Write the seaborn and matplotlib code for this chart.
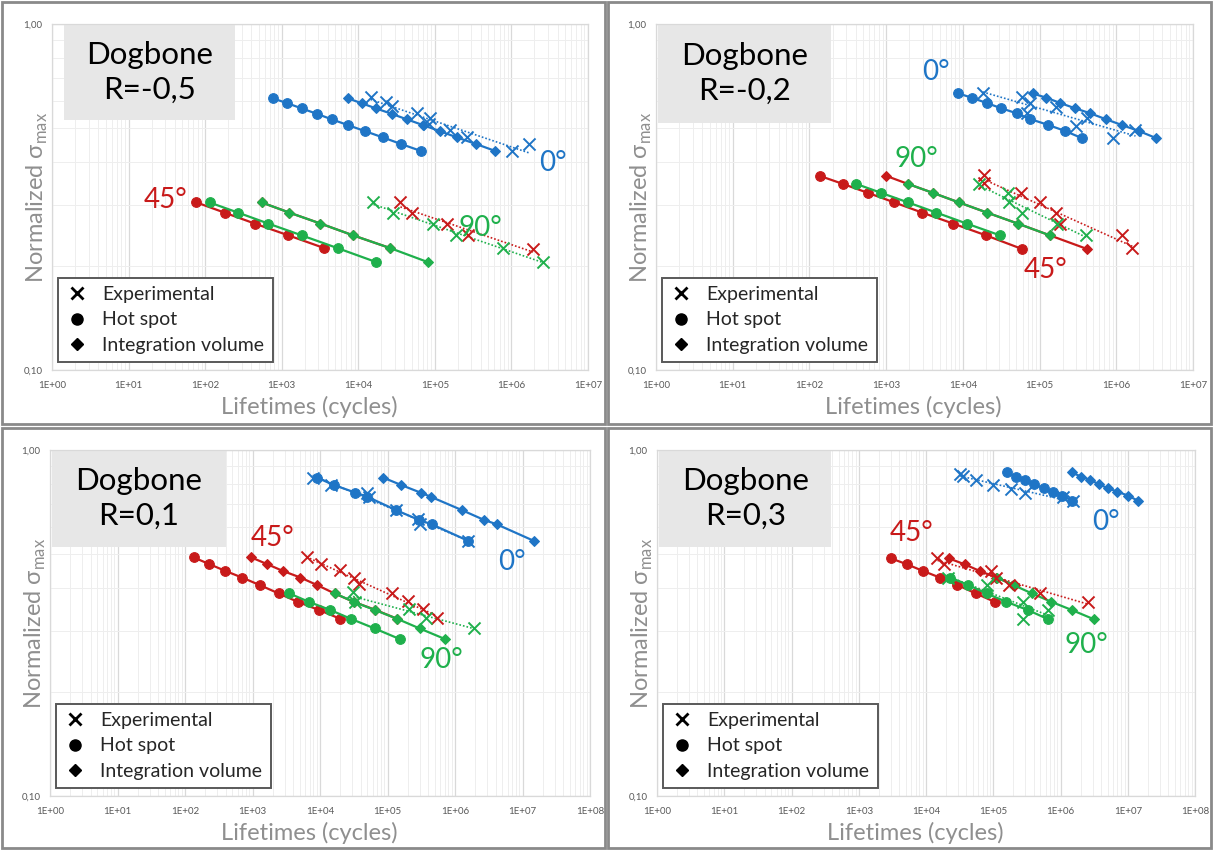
import numpy as np
import matplotlib.pyplot as plt
import seaborn as sns
from matplotlib.lines import Line2D
from matplotlib.patches import Rectangle
from matplotlib.ticker import FixedLocator, NullFormatter

# ---------------- R = -0,5 ----------------
m05_0_hot = [760, 1190, 1830, 2880, 4520, 7380, 12300, 21000, 36100, 65000]
m05_0_hot_s = [0.61, 0.59, 0.57, 0.55, 0.53, 0.51, 0.49, 0.47, 0.45, 0.43]
m05_0_vol = [7290, 11100, 17100, 27300, 43300, 70500, 117000, 195000, 344000, 607000]
m05_0_vol_s = [0.61, 0.59, 0.57, 0.55, 0.53, 0.51, 0.49, 0.47, 0.45, 0.43]
m05_0_exp = [14500, 22900, 27500, 58900, 87100, 83200, 158000, 263000, 1020000, 1700000]
m05_0_exp_s = [0.615, 0.596, 0.578, 0.553, 0.534, 0.513, 0.494, 0.472, 0.430, 0.449]

m05_45_hot = [77, 179, 444, 1220, 3610]
m05_45_hot_s = [0.305, 0.285, 0.265, 0.245, 0.225]
m05_45_vol = [547, 1260, 3210, 8550, 26200]
m05_45_vol_s = [0.305, 0.285, 0.265, 0.245, 0.225]
m05_45_exp = [35500, 49700, 144000, 274000, 1920000]
m05_45_exp_s = [0.306, 0.285, 0.265, 0.245, 0.224]

m05_90_hot = [114, 269, 667, 1820, 5370, 17200]
m05_90_hot_s = [0.305, 0.285, 0.265, 0.245, 0.225, 0.205]
m05_90_vol = [547, 1260, 3210, 8550, 26200, 81100]
m05_90_vol_s = [0.305, 0.285, 0.265, 0.245, 0.225, 0.205]
m05_90_exp = [15800, 28200, 93300, 191000, 776000, 2610000]
m05_90_exp_s = [0.305, 0.285, 0.265, 0.245, 0.225, 0.205]

# ---------------- R = -0,2 ----------------
m02_0_hot = [8710, 13200, 20400, 31600, 50100, 75900, 129000, 214000, 355000]
m02_0_hot_s = [0.630, 0.612, 0.591, 0.571, 0.552, 0.531, 0.511, 0.491, 0.468]
m02_0_vol = [81300, 123000, 186000, 288000, 457000, 724000, 1170000, 1950000, 3310000]
m02_0_vol_s = [0.630, 0.612, 0.591, 0.571, 0.552, 0.531, 0.511, 0.491, 0.468]
m02_0_exp = [18200, 58900, 75900, 166000, 69200, 417000, 295000, 1780000, 912000]
m02_0_exp_s = [0.633, 0.614, 0.592, 0.575, 0.552, 0.534, 0.507, 0.494, 0.469]

m02_45_hot = [136, 273, 579, 1280, 2950, 7460, 20000, 58300]
m02_45_hot_s = [0.364, 0.345, 0.325, 0.305, 0.285, 0.265, 0.245, 0.224]
m02_45_vol = [1000, 1920, 4080, 8890, 20700, 51900, 136000, 410000]
m02_45_vol_s = [0.364, 0.345, 0.325, 0.305, 0.285, 0.265, 0.245, 0.224]
m02_45_exp = [18700, 19100, 56500, 100000, 162000, 184000, 1170000, 1620000]
m02_45_exp_s = [0.366, 0.347, 0.325, 0.305, 0.285, 0.265, 0.245, 0.225]

m02_90_hot = [407, 861, 1930, 4520, 11200, 30500]
m02_90_hot_s = [0.345, 0.325, 0.305, 0.285, 0.265, 0.245]
m02_90_vol = [1920, 4080, 8890, 20700, 51900, 136000]
m02_90_vol_s = [0.345, 0.325, 0.305, 0.285, 0.265, 0.245]
m02_90_exp = [16200, 38900, 39800, 58200, 170000, 403000]
m02_90_exp_s = [0.345, 0.325, 0.305, 0.285, 0.265, 0.245]

# ---------------- R = 0,1 ----------------
p01_0_hot = [9060, 16000, 33500, 50000, 132000, 292000, 450000, 1580000]
p01_0_hot_s = [0.832, 0.792, 0.753, 0.733, 0.671, 0.628, 0.610, 0.546]
p01_0_vol = [86300, 160000, 309000, 434000, 1250000, 2690000, 4140000, 14800000]
p01_0_vol_s = [0.832, 0.792, 0.753, 0.733, 0.671, 0.628, 0.610, 0.546]
p01_0_exp = [7760, 14500, 49000, 52500, 132000, 282000, 302000, 1580000]
p01_0_exp_s = [0.832, 0.792, 0.753, 0.733, 0.671, 0.630, 0.610, 0.546]

p01_45_hot = [135, 229, 398, 698, 1280, 2440, 4680, 9570, 20100]
p01_45_hot_s = [0.489, 0.468, 0.447, 0.428, 0.407, 0.385, 0.364, 0.345, 0.325]
p01_45_vol = [966, 1640, 2830, 5120, 9060, 16400, 31600, 66400, 140000]
p01_45_vol_s = [0.489, 0.468, 0.447, 0.428, 0.407, 0.385, 0.364, 0.345, 0.325]
p01_45_exp = [6310, 10200, 20000, 32400, 37200, 117000, 200000, 335000, 537000]
p01_45_exp_s = [0.489, 0.468, 0.450, 0.428, 0.409, 0.385, 0.366, 0.347, 0.326]

p01_90_hot = [3510, 6850, 14100, 28800, 64300, 153000]
p01_90_hot_s = [0.385, 0.364, 0.345, 0.325, 0.305, 0.284]
p01_90_vol = [16600, 31600, 64600, 140000, 299000, 716000]
p01_90_vol_s = [0.385, 0.364, 0.345, 0.325, 0.305, 0.284]
p01_90_exp = [30900, 32700, 211000, 366000, 1910000]
p01_90_exp_s = [0.389, 0.364, 0.346, 0.328, 0.305]

# ---------------- R = 0,3 ----------------
p03_0_hot = [158000, 219000, 294000, 405000, 562000, 774000, 1070000, 1480000]
p03_0_hot_s = [0.861, 0.837, 0.819, 0.796, 0.775, 0.758, 0.738, 0.714]
p03_0_vol = [1460000, 2050000, 2780000, 3740000, 5090000, 7000000, 10100000, 14100000]
p03_0_vol_s = [0.861, 0.837, 0.819, 0.796, 0.775, 0.758, 0.738, 0.714]
p03_0_exp = [32400, 35500, 56200, 97700, 182000, 295000, 1100000, 1510000]
p03_0_exp_s = [0.855, 0.840, 0.820, 0.790, 0.770, 0.750, 0.730, 0.710]

p03_45_hot = [3030, 5250, 9060, 16000, 29400, 55000, 105000]
p03_45_hot_s = [0.486, 0.467, 0.447, 0.428, 0.407, 0.385, 0.364]
p03_45_vol = [22000, 37800, 63100, 111000, 209000]
p03_45_vol_s = [0.486, 0.467, 0.447, 0.428, 0.407]
p03_45_exp = [14800, 18600, 93300, 110000, 174000, 501000, 2570000]
p03_45_exp_s = [0.486, 0.467, 0.447, 0.428, 0.407, 0.385, 0.364]

p03_90_hot = [22900, 42700, 79400, 157000, 324000, 661000]
p03_90_hot_s = [0.428, 0.407, 0.385, 0.364, 0.345, 0.324]
p03_90_vol = [112000, 200000, 376000, 733000, 1460000, 3160000]
p03_90_vol_s = [0.428, 0.407, 0.385, 0.364, 0.345, 0.324]
p03_90_exp = [20900, 79400, 275000, 646000, 275000]
p03_90_exp_s = [0.428, 0.407, 0.364, 0.345, 0.324]

BLUE, RED, GREEN = "#1f75c6", "#c81a1a", "#1fb04c"
GREY_TXT = "#8f8f8f"

sns.set_theme(style="white")
plt.rcParams["font.family"] = ["Lato", "DejaVu Sans"]
plt.rcParams["mathtext.fontset"] = "custom"
plt.rcParams["mathtext.rm"] = "Lato"


def group(hot, hot_s, vol, vol_s, exp, exp_s):
    return dict(hot=hot, hot_s=hot_s, vol=vol, vol_s=vol_s, exp=exp, exp_s=exp_s)


panels = [
    dict(title="Dogbone\nR=-0,5", ndec=7,
         rect=[52, 24, 536, 346], border=[2, 2, 603, 422], box=(0.022, 0.341, 0.722),
         data={BLUE: group(m05_0_hot, m05_0_hot_s, m05_0_vol, m05_0_vol_s, m05_0_exp, m05_0_exp_s),
               RED: group(m05_45_hot, m05_45_hot_s, m05_45_vol, m05_45_vol_s, m05_45_exp, m05_45_exp_s),
               GREEN: group(m05_90_hot, m05_90_hot_s, m05_90_vol, m05_90_vol_s, m05_90_exp, m05_90_exp_s)},
         labels=[("0°", BLUE, 3.5e6, 0.396), ("45°", RED, 30, 0.311), ("90°", GREEN, 3.9e5, 0.257)]),
    dict(title="Dogbone\nR=-0,2", ndec=7,
         rect=[656, 24, 537, 346], border=[608, 2, 603, 422], box=(0.003, 0.326, 0.715),
         data={BLUE: group(m02_0_hot, m02_0_hot_s, m02_0_vol, m02_0_vol_s, m02_0_exp, m02_0_exp_s),
               RED: group(m02_45_hot, m02_45_hot_s, m02_45_vol, m02_45_vol_s, m02_45_exp, m02_45_exp_s),
               GREEN: group(m02_90_hot, m02_90_hot_s, m02_90_vol, m02_90_vol_s, m02_90_exp, m02_90_exp_s)},
         labels=[("0°", BLUE, 4.5e3, 0.728), ("90°", GREEN, 2.5e3, 0.406), ("45°", RED, 1.2e5, 0.195)]),
    dict(title="Dogbone\nR=0,1", ndec=8,
         rect=[50, 450, 540, 346], border=[2, 428, 603, 420], box=(0.004, 0.326, 0.72),
         data={BLUE: group(p01_0_hot, p01_0_hot_s, p01_0_vol, p01_0_vol_s, p01_0_exp, p01_0_exp_s),
               RED: group(p01_45_hot, p01_45_hot_s, p01_45_vol, p01_45_vol_s, p01_45_exp, p01_45_exp_s),
               GREEN: group(p01_90_hot, p01_90_hot_s, p01_90_vol, p01_90_vol_s, p01_90_exp, p01_90_exp_s)},
         labels=[("0°", BLUE, 7e6, 0.476), ("45°", RED, 2e3, 0.558), ("90°", GREEN, 6.2e5, 0.247)]),
    dict(title="Dogbone\nR=0,3", ndec=8,
         rect=[657, 450, 538, 346], border=[608, 428, 603, 420], box=(0.004, 0.324, 0.72),
         data={BLUE: group(p03_0_hot, p03_0_hot_s, p03_0_vol, p03_0_vol_s, p03_0_exp, p03_0_exp_s),
               RED: group(p03_45_hot, p03_45_hot_s, p03_45_vol, p03_45_vol_s, p03_45_exp, p03_45_exp_s),
               GREEN: group(p03_90_hot, p03_90_hot_s, p03_90_vol, p03_90_vol_s, p03_90_exp, p03_90_exp_s)},
         labels=[("0°", BLUE, 4.8e6, 0.621), ("45°", RED, 6e3, 0.574), ("90°", GREEN, 2.45e6, 0.274)]),
]

W, H = 1213, 850
fig = plt.figure(figsize=(W / 100, H / 100), dpi=100)

for p in panels:
    bx, by, bw, bh = p["border"]
    fig.add_artist(Rectangle((bx / W, 1 - (by + bh) / H), bw / W, bh / H, transform=fig.transFigure,
                             fill=False, edgecolor="#8a8a8a", lw=2))
    x, y, w, h = p["rect"]
    ax = fig.add_axes([x / W, 1 - (y + h) / H, w / W, h / H])
    ax.set_xscale("log")
    ax.set_yscale("log")

    for color, d in p["data"].items():
        sns.lineplot(x=d["hot"], y=d["hot_s"], ax=ax, color=color, marker="o", markersize=7,
                     markeredgecolor=color, lw=1.6, estimator=None, sort=False, zorder=4)
        sns.lineplot(x=d["vol"], y=d["vol_s"], ax=ax, color=color, marker="D", markersize=5,
                     markeredgecolor=color, lw=1.6, estimator=None, sort=False, zorder=4)
        # power-law trend line through the experimental points, as Excel draws it
        k, b = np.polyfit(np.log10(d["exp"]), np.log10(d["exp_s"]), 1)
        xs = np.array([min(d["exp"]), max(d["exp"])])
        ax.plot(xs, 10 ** b * xs ** k, ls=(0, (1, 1.2)), color=color, lw=1.2, zorder=3)
        sns.scatterplot(x=d["exp"], y=d["exp_s"], ax=ax, color=color, marker="x", s=75,
                        linewidth=1.4, zorder=5)

    n = p["ndec"]
    ax.set_xlim(1, 10 ** n)
    ax.set_ylim(0.1, 1)
    ax.xaxis.set_major_locator(FixedLocator(10.0 ** np.arange(n + 1)))
    ax.set_xticklabels([f"1E+{e:02d}" for e in range(n + 1)])
    ax.xaxis.set_minor_locator(FixedLocator([m * 10.0 ** e for e in range(n) for m in range(2, 10)]))
    ax.xaxis.set_minor_formatter(NullFormatter())
    ax.yaxis.set_major_locator(FixedLocator([0.1, 1.0]))
    ax.set_yticklabels(["0,10", "1,00"])
    ax.yaxis.set_minor_locator(FixedLocator([m / 10 for m in range(2, 10)]))
    ax.yaxis.set_minor_formatter(NullFormatter())
    ax.tick_params(which="both", length=0, labelsize=7, colors="#595959")
    ax.tick_params(axis="x", pad=8)
    ax.tick_params(axis="y", pad=7)
    ax.grid(which="major", color="#d9d9d9", lw=0.9)
    ax.grid(which="minor", color="#eeeeee", lw=0.7)
    for s in ax.spines.values():
        s.set_color("#d9d9d9")
        s.set_linewidth(0.9)

    ax.set_xlabel("Lifetimes (cycles)", fontsize=17, color=GREY_TXT)
    ax.xaxis.set_label_coords(0.48, -0.107)
    ax.xaxis.label.set_va("center")
    ax.set_ylabel(r"Normalized σ$_{\mathrm{max}}$", fontsize=17, color=GREY_TXT)
    ax.yaxis.set_label_coords(-0.027, 0.5)
    ax.yaxis.label.set_va("center")

    x0, x1, y0 = p["box"]
    ax.add_patch(Rectangle((x0, y0), x1 - x0, 1 - y0, transform=ax.transAxes,
                           facecolor="#e7e7e7", edgecolor="none", zorder=2))
    ax.text((x0 + x1) / 2, (1 + y0) / 2, p["title"], transform=ax.transAxes, ha="center",
            va="center", fontsize=22.5, color="black", linespacing=1.3, zorder=6)

    for txt, color, lx, ly in p["labels"]:
        ax.text(lx, ly, txt, color=color, fontsize=20, ha="center", va="center", zorder=6)

    handles = [Line2D([], [], color="black", marker="x", ls="none", markersize=8, mew=2),
               Line2D([], [], color="black", marker="o", ls="none", markersize=8),
               Line2D([], [], color="black", marker="D", ls="none", markersize=6)]
    leg = ax.legend(handles, ["Experimental", "Hot spot", "Integration volume"], loc="lower left",
                    bbox_to_anchor=(0.012, 0.022), borderaxespad=0, fontsize=14, frameon=True,
                    fancybox=False, edgecolor="#595959", framealpha=1, handlelength=1.0,
                    handletextpad=0.8, labelspacing=0.42, borderpad=0.45)
    leg.get_frame().set_linewidth(1.4)
    leg.set_zorder(7)

fig.savefig("out.png", dpi=100)
